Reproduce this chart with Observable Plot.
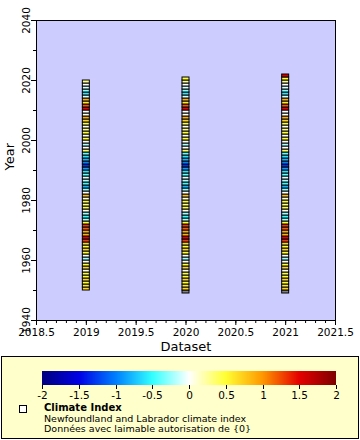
<!DOCTYPE html>
<html>
<head>
<meta charset="utf-8">
<script src="https://cdn.jsdelivr.net/npm/d3@7"></script>
<script src="https://cdn.jsdelivr.net/npm/@observablehq/plot@0.6"></script>
<style>
  html, body { margin: 0; padding: 0; background: #fff; }
  body { width: 360px; height: 440px; font-family: "DejaVu Sans", sans-serif; position: relative; overflow: hidden; }
  #legend { position: absolute; left: 1px; top: 356px; width: 356px; height: 81px; background: #ffffcc; border: 1px solid #000; }
  #ramp { position: absolute; left: 0; top: 12px; }
  .ltext { position: absolute; left: 42px; font-size: 9.5px; line-height: 10px; color: #000; white-space: nowrap; }
  #sq { position: absolute; left: 17px; top: 48px; width: 6px; height: 6px; border: 1px solid #000; background: #fff; }
</style>
</head>
<body>
<div id="chart"></div>
<div id="legend">
  <div id="ramp"></div>
  <div id="sq"></div>
  <div class="ltext" style="top:46px;font-weight:bold;font-size:10px;">Climate Index</div>
  <div class="ltext" style="top:57px;">Newfoundland and Labrador climate index</div>
  <div class="ltext" style="top:67px;">Données avec laimable autorisation de {0}</div>
</div>
<script>
// Datasets (x positions) and the year span of each dataset column
const datasets = [2019, 2020, 2021];
const firstYears = [1950, 1949, 1949];
const lastYears = [2019, 2020, 2021];

// Climate index per year, 1949..2021 (null = missing, drawn grey)
const years = d3.range(1949, 2022);
const climateIndex = [
  null,                                              // 1949
  0.7, 0.6, 0.5, 0.7, 0.5, 0.5, 0.05, 0.7, 0.5, 0.05, // 1950-1959
  -0.25, 0.05, 0.5, 0.7, 0.5, 0.7, 1.3, 1.5, 0.9, 0.9, // 1960-1969
  1.2, 1.3, 0.5, -0.25, -0.5, -0.25, 0.05, 0.5, 0.3, 0.5, // 1970-1979
  0.1, 0.8, 0.0, -0.3, -0.8, -0.5, -0.2, -0.1, -0.4, -0.6, // 1980-1989
  -0.9, -1.3, -1.0, -0.8, -0.6, -0.4, 0.4, 0.0, -0.2, 0.05, // 1990-1999
  0.5, 0.05, 0.5, 0.3, 0.05, 0.5, 0.7, 0.9, 0.05, 0.0, // 2000-2009
  1.5, 1.2, 0.6, 0.9, -0.1, -0.6, -0.3, -0.1, 0.0, 0.3, // 2010-2019
  0.5, 1.6                                            // 2020-2021
];

// Colour bar
const colorStops = [-2, -1.5, -1, -0.5, 0, 0.5, 1, 1.5, 2];
const colorRange = ["#000080", "#0000e6", "#0080ff", "#33ffff", "#ffffff", "#ffff33", "#ff9900", "#e60000", "#800000"];
const legendTicks = [-2, -1.5, -1, -0.5, 0, 0.5, 1, 1.5, 2];
const xTicks = [2018.5, 2019, 2019.5, 2020, 2020.5, 2021, 2021.5];
const yTicks = [1940, 1960, 1980, 2000, 2020, 2040];

const cells = [];
datasets.forEach((ds, i) => {
  years.forEach((y, j) => {
    if (y >= firstYears[i] && y <= lastYears[i]) cells.push({dataset: ds, year: y, value: climateIndex[j]});
  });
});

const halfW = 0.035;
const colorFn = d3.scaleLinear().domain(colorStops).range(colorRange).clamp(true);

const chart = Plot.plot({
  width: 360,
  height: 354,
  marginTop: 20,
  marginBottom: 34,
  marginLeft: 36,
  marginRight: 25,
  style: {fontFamily: "DejaVu Sans, sans-serif", fontSize: "10.5px", background: "#ffffff", overflow: "visible"},
  x: {domain: [2018.5, 2021.5], label: null},
  y: {domain: [1940, 2040], label: null},
  marks: [
    Plot.frame({fill: "#ccccff"}),
    Plot.rect(cells, {
      x1: d => d.dataset - halfW, x2: d => d.dataset + halfW,
      y1: "year", y2: d => d.year + 1,
      fill: d => d.value == null ? "#808080" : colorFn(d.value),
      stroke: "#000", strokeWidth: 1
    }),
    Plot.frame({stroke: "#000", strokeWidth: 1}),
    Plot.axisX({ticks: d3.range(2018.5, 2021.51, 0.1), tickSize: 3, text: null}),
    Plot.axisX({ticks: xTicks, tickSize: 5, tickFormat: d => String(d), tickPadding: 3, fontSize: 10.5, label: null}),
    Plot.axisY({ticks: d3.range(1940, 2041, 10), tickSize: 3, text: null}),
    Plot.axisY({ticks: yTicks, tickSize: 5, tickFormat: d => String(d), tickRotate: -90, tickPadding: 2, fontSize: 10.5, label: null}),
    Plot.text(["Dataset"], {frameAnchor: "bottom", dy: 30, fontSize: 13}),
    Plot.text(["Year"], {frameAnchor: "left", dx: -27, rotate: -90, fontSize: 13})
  ]
});
document.getElementById("chart").appendChild(chart);

const ramp = Plot.legend({
  color: {type: "linear", domain: colorStops, range: colorRange},
  width: 356,
  height: 40,
  marginLeft: 40,
  marginRight: 22,
  marginTop: 2,
  marginBottom: 24,
  tickSize: 4,
  ticks: legendTicks,
  tickFormat: d => String(d),
  label: null,
  style: {fontFamily: "DejaVu Sans, sans-serif", fontSize: "10.5px", background: "transparent"}
});
d3.select(ramp).selectAll(".tick line").attr("y1", 0);
document.getElementById("ramp").appendChild(ramp);
</script>
</body>
</html>
